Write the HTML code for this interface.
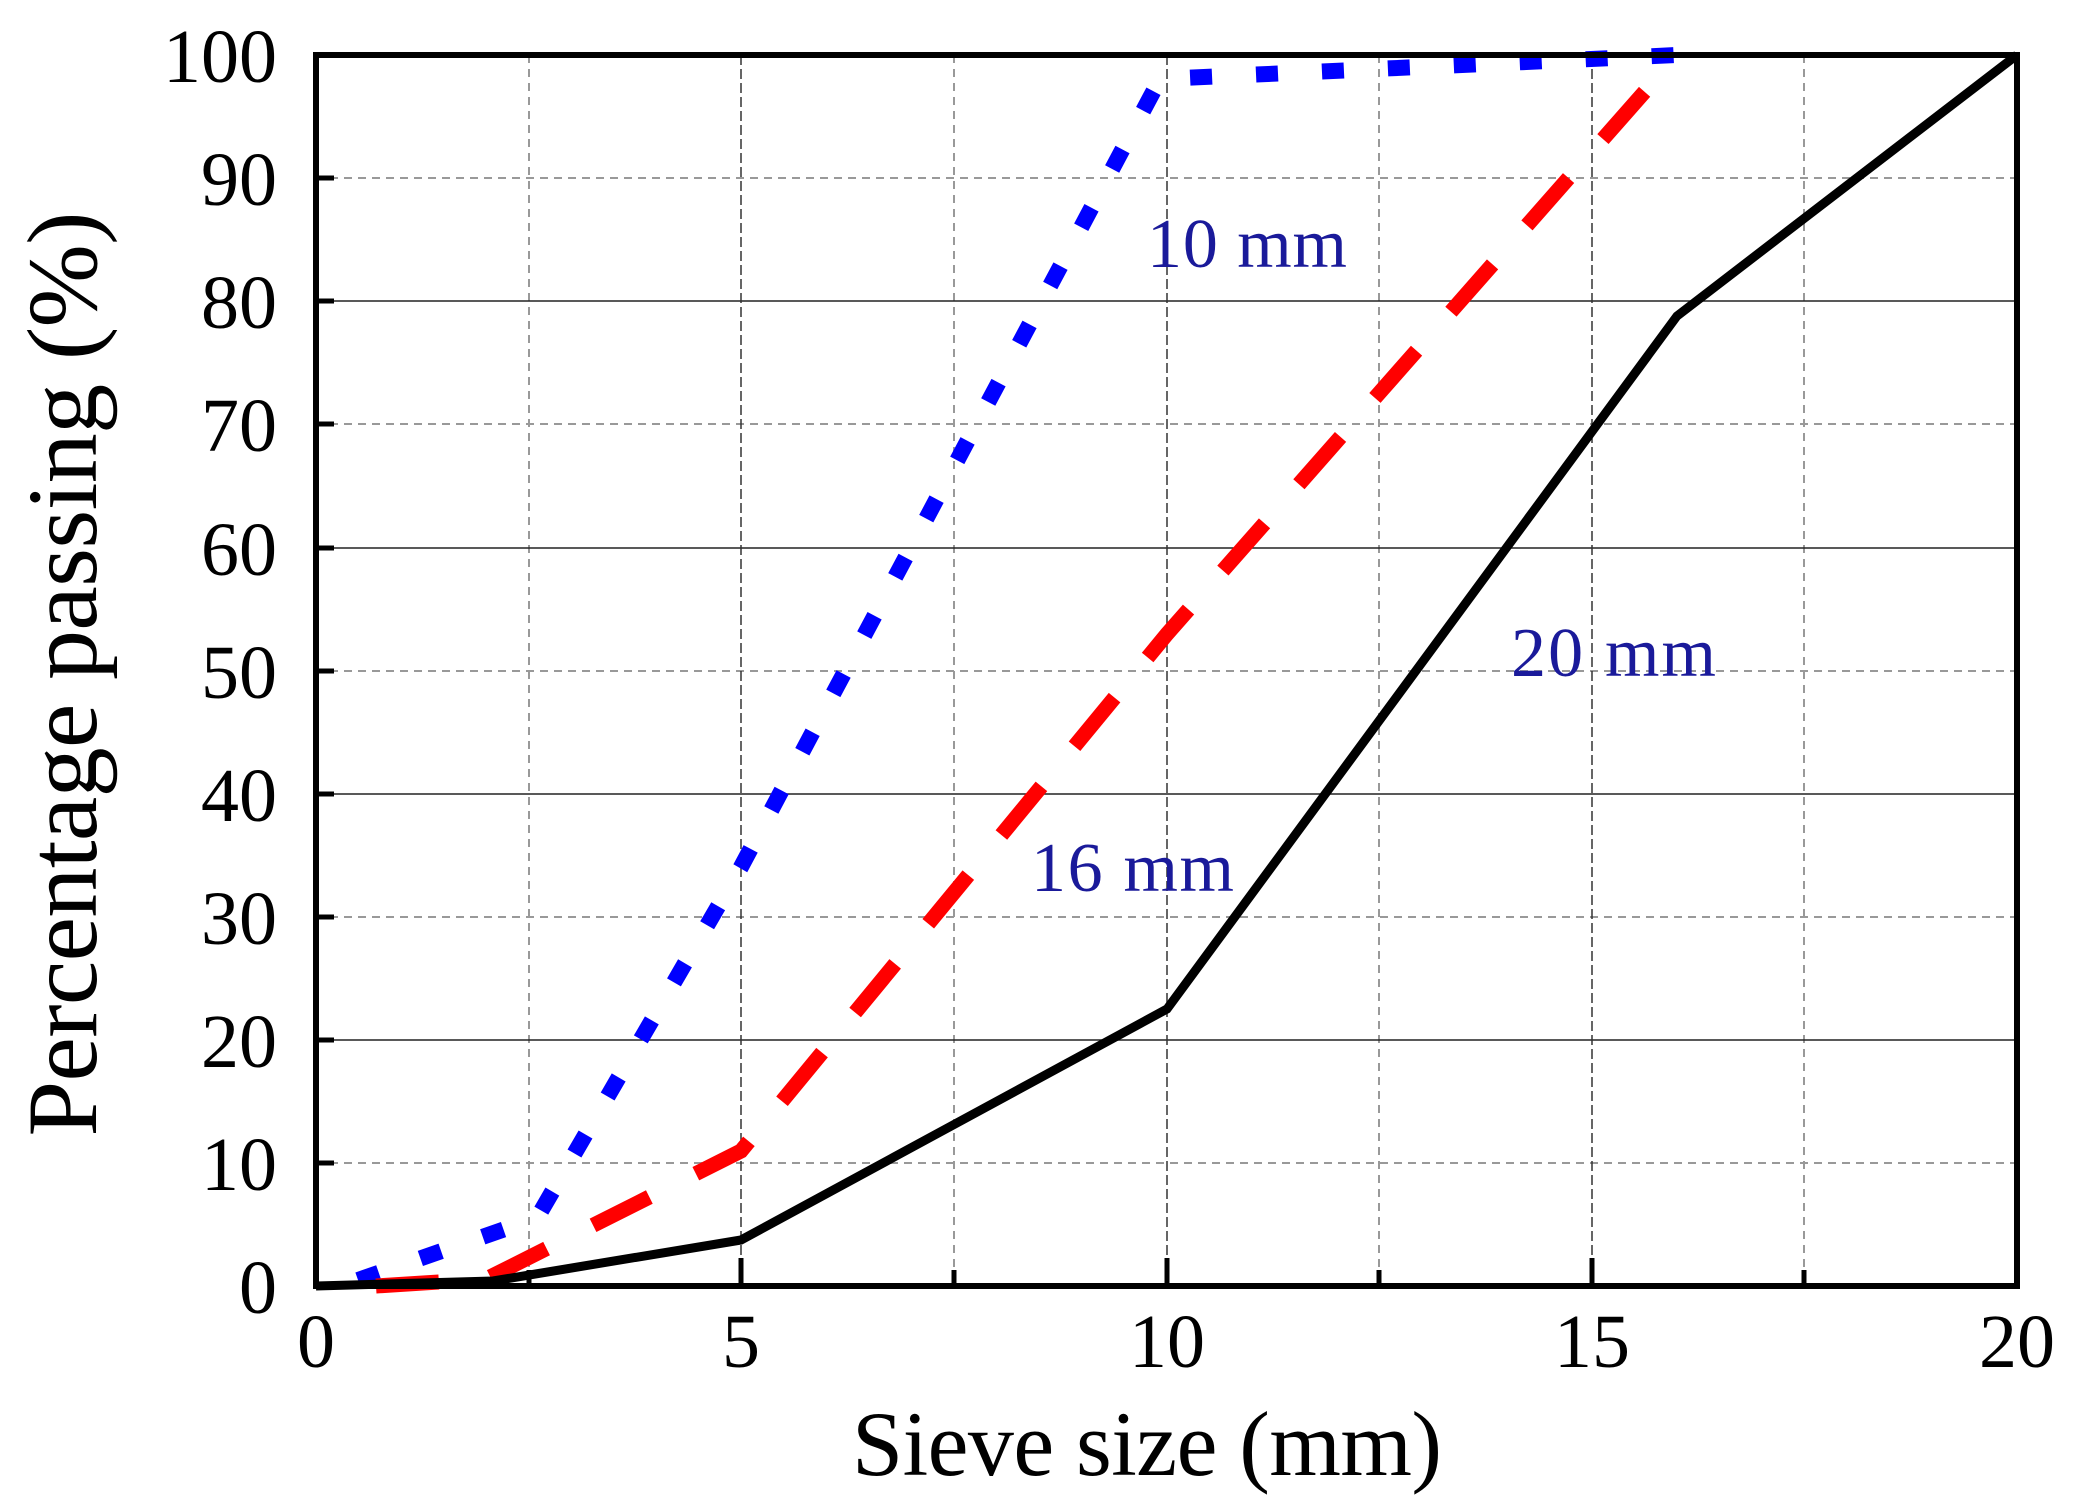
<!DOCTYPE html>
<html><head><meta charset="utf-8"><style>body{margin:0;background:#fff}svg{display:block}</style></head><body>
<svg width="2081" height="1498" viewBox="0 0 2081 1498" xmlns="http://www.w3.org/2000/svg" font-family="Liberation Serif, serif">
<rect width="2081" height="1498" fill="#fff"/>
<g stroke="#999" stroke-width="2" stroke-dasharray="8,6">
<line x1="316" y1="1163" x2="2017" y2="1163"/><line x1="316" y1="917" x2="2017" y2="917"/>
<line x1="316" y1="671" x2="2017" y2="671"/><line x1="316" y1="424" x2="2017" y2="424"/>
<line x1="316" y1="178" x2="2017" y2="178"/>
<line x1="529" y1="55" x2="529" y2="1286"/><line x1="954" y1="55" x2="954" y2="1286"/>
<line x1="1379" y1="55" x2="1379" y2="1286"/><line x1="1804" y1="55" x2="1804" y2="1286"/>
</g>
<g stroke="#222" stroke-width="1.5">
<line x1="316" y1="1040" x2="2017" y2="1040"/><line x1="316" y1="794" x2="2017" y2="794"/>
<line x1="316" y1="548" x2="2017" y2="548"/><line x1="316" y1="301" x2="2017" y2="301"/>
</g>
<g stroke="#333" stroke-width="1.5" stroke-dasharray="10,4">
<line x1="741" y1="55" x2="741" y2="1286"/><line x1="1167" y1="55" x2="1167" y2="1286"/><line x1="1592" y1="55" x2="1592" y2="1286"/>
</g>
<g stroke="#000" stroke-width="5">
<line x1="316" y1="1163" x2="334" y2="1163"/><line x1="316" y1="1040" x2="334" y2="1040"/><line x1="316" y1="917" x2="334" y2="917"/><line x1="316" y1="794" x2="334" y2="794"/><line x1="316" y1="671" x2="334" y2="671"/><line x1="316" y1="548" x2="334" y2="548"/><line x1="316" y1="424" x2="334" y2="424"/><line x1="316" y1="301" x2="334" y2="301"/><line x1="316" y1="178" x2="334" y2="178"/>
<line x1="741" y1="1286" x2="741" y2="1258"/><line x1="1167" y1="1286" x2="1167" y2="1258"/><line x1="1592" y1="1286" x2="1592" y2="1258"/>
<line x1="529" y1="1286" x2="529" y2="1270"/><line x1="954" y1="1286" x2="954" y2="1270"/><line x1="1379" y1="1286" x2="1379" y2="1270"/><line x1="1804" y1="1286" x2="1804" y2="1270"/>
</g>
<polyline points="358,1280 537,1218 741,867 1160,79 1677,55" fill="none" stroke="#0000ff" stroke-width="16" stroke-dasharray="22,44"/>
<polyline points="376,1286 486,1279 741,1151 1167,634 1677,55" fill="none" stroke="#ff0000" stroke-width="15" stroke-dasharray="63,52"/>
<polyline points="316,1286 493,1281 741,1240 1167,1009 1677,316 2017,55" fill="none" stroke="#000" stroke-width="9"/>
<rect x="316" y="55" width="1701" height="1231" fill="none" stroke="#000" stroke-width="6"/>
<g font-size="76" text-anchor="end" fill="#000">
<text x="277" y="82">100</text><text x="277" y="205">90</text><text x="277" y="328">80</text><text x="277" y="451">70</text><text x="277" y="575">60</text><text x="277" y="698">50</text><text x="277" y="821">40</text><text x="277" y="944">30</text><text x="277" y="1067">20</text><text x="277" y="1190">10</text><text x="277" y="1313">0</text>
</g>
<g font-size="76" text-anchor="middle" fill="#000">
<text x="316" y="1367">0</text><text x="741" y="1367">5</text><text x="1167" y="1367">10</text><text x="1592" y="1367">15</text><text x="2017" y="1367">20</text>
</g>
<text x="1147" y="1475" font-size="92" text-anchor="middle" textLength="590">Sieve size (mm)</text>
<text transform="translate(96,674) rotate(-90)" font-size="100" text-anchor="middle" textLength="925">Percentage passing (%)</text>
<g font-size="70" fill="#1a1a9a">
<text x="1147" y="267" textLength="200">10 mm</text>
<text x="1511" y="676" textLength="205">20 mm</text>
<text x="1031" y="891" textLength="203">16 mm</text>
</g>
</svg>
</body></html>
